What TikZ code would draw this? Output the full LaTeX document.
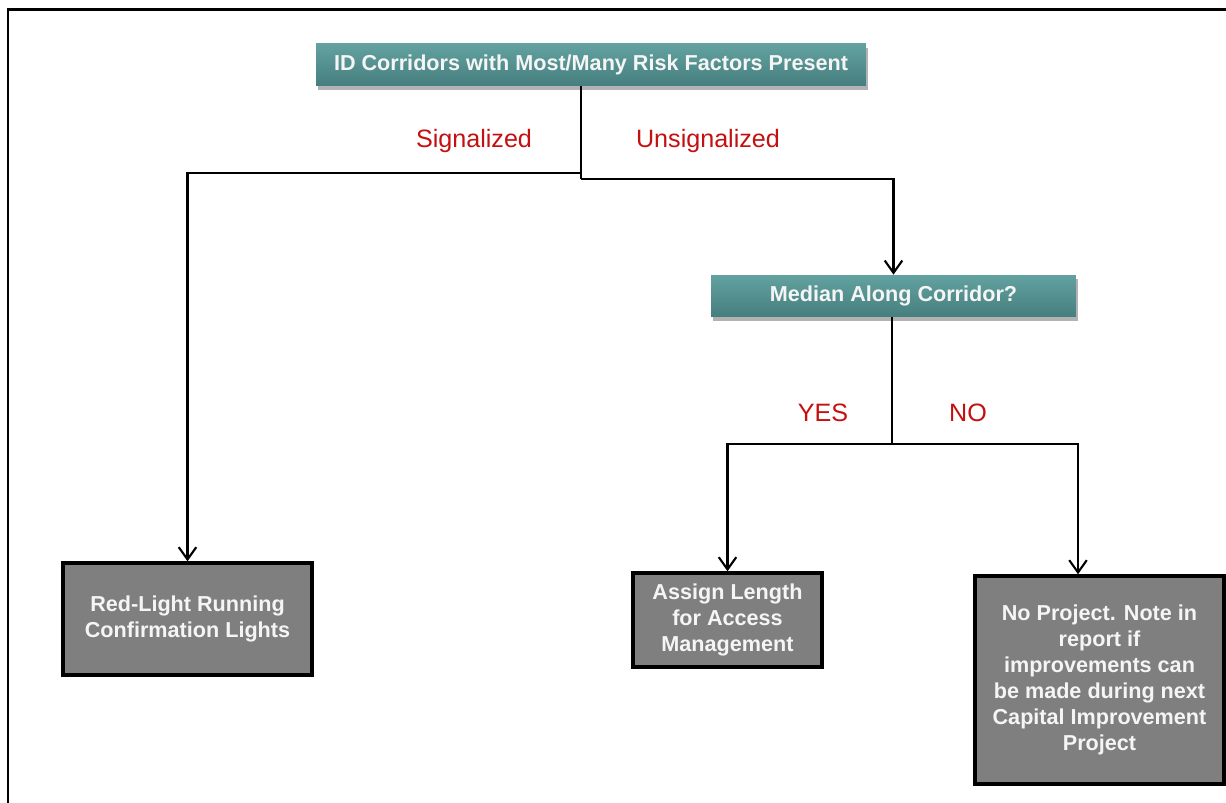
\documentclass[tikz,border=0pt]{standalone}
\usepackage{fontspec}
\setmainfont{Liberation Sans}
\usetikzlibrary{arrows.meta,shadows}
\definecolor{tealtop}{RGB}{98,162,160}
\definecolor{tealbot}{RGB}{70,126,126}
\definecolor{boxgray}{RGB}{127,127,127}
\definecolor{lblred}{RGB}{196,16,16}
\definecolor{txtwhite}{RGB}{245,245,245}
\tikzset{
  tealbox/.style={rectangle, top color=tealtop, bottom color=tealbot, draw=none,
    text=txtwhite, font=\fontsize{12.3}{14.8}\selectfont\bfseries,
    drop shadow={shadow xshift=1pt, shadow yshift=-2pt, fill=black, opacity=0.3},
    inner sep=0pt},
  graybox/.style={rectangle, fill=boxgray, draw=black, line width=2pt,
    text=txtwhite, font=\fontsize{12.3}{14.8}\selectfont\bfseries, align=center,
    inner sep=0pt},
  conn/.style={draw=black, line width=1.2pt},
  arr/.style={conn, -{Straight Barb[length=7pt,width=10pt,line width=1.2pt]}},
  lbl/.style={text=lblred, font=\fontsize{14.3}{16}\selectfont, inner sep=0pt},
  frameline/.style={draw=black, line width=1.7pt}
}
\begin{document}
\begin{tikzpicture}[x=0.02cm,y=-0.02cm]
\useasboundingbox (0,0) rectangle (1226,803);
\fill[white] (0,0) rectangle (1226,803);
% frame
\coordinate (fa) at (8,803);
\coordinate (fb) at (8,10);
\coordinate (fc) at (1230,10);
\draw[frameline] (fa) -- (fb) -- (fc);

\node[tealbox, minimum width=11cm, minimum height=0.84cm] (top) at (591,65) {ID Corridors with Most/Many Risk Factors Present};
\node[tealbox, minimum width=7.3cm, minimum height=0.84cm] (med) at (893.5,296) {Median Along Corridor?};

\node[graybox, minimum width=4.98cm, minimum height=2.24cm] (red) at (187.5,619) {Red-Light Running\\Confirmation Lights};
\node[graybox, minimum width=3.78cm, minimum height=1.88cm] (assign) at (727.5,620) {Assign Length\\for Access\\Management};
\node[graybox, minimum width=4.98cm, minimum height=4.16cm] (noproj) at (1099.5,680) {No Project. Note in\\report if\\improvements can\\be made during next\\Capital Improvement\\Project};

\node[lbl] (sig) at (474,141) {Signalized};
\node[lbl] (unsig) at (708,141) {Unsignalized};
\node[lbl] (yes) at (823,413) {YES};
\node[lbl] (no) at (968,413) {NO};

\coordinate (j1) at (581,173);
\coordinate (j2) at (581,179);
\coordinate (j3) at (892,444);
\coordinate (j4) at (1078,444);

\draw[conn] (top.south -| j1) -- (j2);
\draw[arr] (j1) -- (j1 -| red.north) -- (red.north);
\draw[arr] (j2) -- (j2 -| med.north) -- (med.north);
\draw[conn] (med.south -| j3) -- (j3);
\draw[arr] (j3) -- (j3 -| assign.north) -- (assign.north);
\draw[arr] (j3) -- (j4) -- (j4 |- noproj.north);
\end{tikzpicture}
\end{document}
